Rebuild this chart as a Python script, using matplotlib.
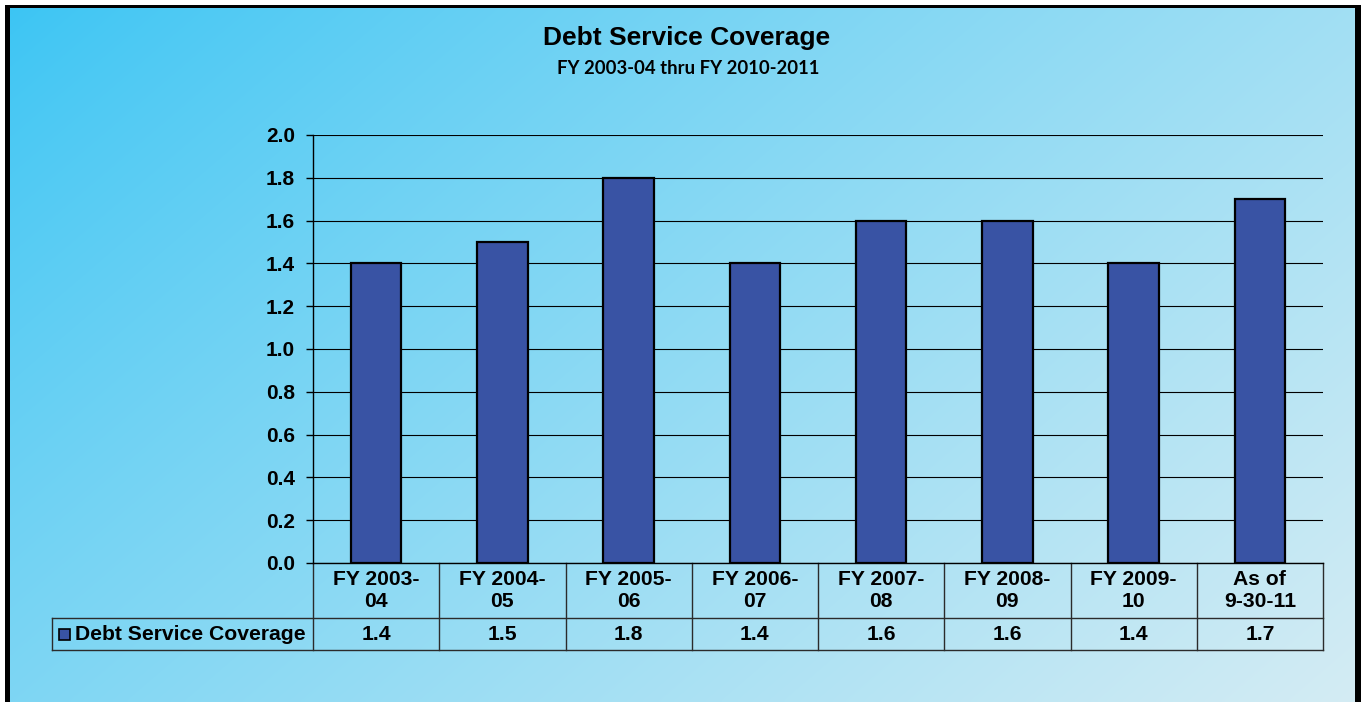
import numpy as np
import matplotlib
matplotlib.use("Agg")
import matplotlib.pyplot as plt
from matplotlib.patches import Rectangle
from matplotlib.transforms import blended_transform_factory

# ---- data ----
categories = ["FY 2003-\n04", "FY 2004-\n05", "FY 2005-\n06", "FY 2006-\n07",
              "FY 2007-\n08", "FY 2008-\n09", "FY 2009-\n10", "As of\n9-30-11"]
coverage = [1.4, 1.5, 1.8, 1.4, 1.6, 1.6, 1.4, 1.7]
series_name = "Debt Service Coverage"
title = "Debt Service Coverage"
subtitle = "FY 2003-04 thru FY 2010-2011"
yticks = [0.0, 0.2, 0.4, 0.6, 0.8, 1.0, 1.2, 1.4, 1.6, 1.8, 2.0]

W, H = 1364, 702
fig = plt.figure(figsize=(W / 100, H / 100), dpi=100)
fig.patch.set_facecolor("white")

def px(x0, y0, x1, y1):
    """Figure-fraction rect from pixel box (top-left origin)."""
    return [x0 / W, 1 - y1 / H, (x1 - x0) / W, (y1 - y0) / H]

# ---- diagonal gradient background ----
bg = fig.add_axes(px(10, 8, 1356, 702), zorder=-10)
bg.set_axis_off()
gx, gy = np.meshgrid(np.linspace(0, 1, 400), np.linspace(0, 1, 200))
t = np.clip((gx * 1.0 + gy * 0.6) / 1.6, 0, 1) ** 0.85
c0 = np.array([60, 197, 244]) / 255
c1 = np.array([212, 236, 243]) / 255
img = c0[None, None, :] * (1 - t[..., None]) + c1[None, None, :] * t[..., None]
bg.imshow(img, aspect="auto", extent=[0, 1, 1, 0], interpolation="bilinear")
bg.set_xlim(0, 1)
bg.set_ylim(1, 0)

# black frame (left, top, right)
for (x0, y0, x1, y1) in [(5, 5, 10, 702), (5, 5, 1361, 8), (1355, 5, 1361, 702)]:
    fig.patches.append(Rectangle((x0 / W, 1 - y1 / H), (x1 - x0) / W, (y1 - y0) / H,
                                 transform=fig.transFigure, facecolor="black",
                                 edgecolor="none", zorder=5))

# ---- titles ----
fig.text(687 / W, 1 - 38 / H, title, ha="center", va="center",
         fontsize=19, fontweight="bold", family="Liberation Sans")
fig.text(688 / W, 1 - 68 / H, subtitle, ha="center", va="center",
         fontsize=13.3, fontweight="bold", family="Lato")

# ---- chart ----
ax_l, ax_t, ax_r, ax_b = 313, 135, 1323, 563
ax = fig.add_axes(px(ax_l, ax_t, ax_r, ax_b))
ax.patch.set_alpha(0)
n = len(categories)
x = np.arange(n)
bar_color = "#3953A4"
ax.bar(x, coverage, width=0.4, color=bar_color, edgecolor="black",
       linewidth=1.6, zorder=3)
ax.set_xlim(-0.5, n - 0.5)
ax.set_ylim(0, 2.0)
ax.set_yticks(yticks)
ax.set_yticklabels([f"{v:.1f}" for v in yticks], fontsize=15,
                   fontweight="bold", family="Liberation Sans")
ax.tick_params(axis="y", length=5, width=1, pad=8, colors="black")
ax.set_xticks([])
ax.grid(axis="y", color="black", linewidth=0.8, zorder=0)
for s in ["top", "right"]:
    ax.spines[s].set_visible(False)
ax.spines["left"].set_linewidth(1)
ax.spines["bottom"].set_linewidth(1)

# ---- data table below the axes ----
unit_px = (ax_r - ax_l) / n
ax_h = ax_b - ax_t
tr = blended_transform_factory(ax.transData, ax.transAxes)
y_head_bot = -(618 - ax_b) / ax_h
y_row_bot = -(650 - ax_b) / ax_h
x_left = -0.5 - (ax_l - 52) / unit_px
line_kw = dict(color="#2b2b2b", linewidth=1.0, transform=tr, clip_on=False)

# vertical separators
for b in np.arange(n + 1) - 0.5:
    ax.plot([b, b], [0, y_row_bot], **line_kw)
ax.plot([x_left, x_left], [y_head_bot, y_row_bot], **line_kw)
# horizontal lines
ax.plot([x_left, n - 0.5], [y_head_bot, y_head_bot], **line_kw)
ax.plot([x_left, n - 0.5], [y_row_bot, y_row_bot], **line_kw)

txt_kw = dict(fontsize=15.2, fontweight="bold", family="Liberation Sans",
              transform=tr, clip_on=False)
for i, (cat, v) in enumerate(zip(categories, coverage)):
    ax.text(i, y_head_bot / 2, cat, ha="center", va="center",
            linespacing=1.22, **txt_kw)
    ax.text(i, (y_head_bot + y_row_bot) / 2, f"{v:.1f}", ha="center",
            va="center", **txt_kw)

# legend key + series name in the row header
key_x = x_left + (59 - 52) / unit_px
key_w = 11 / unit_px
key_h = 11 / ax_h
y_mid = (y_head_bot + y_row_bot) / 2
ax.add_patch(Rectangle((key_x, y_mid - key_h / 2), key_w, key_h,
                       facecolor=bar_color, edgecolor="black", linewidth=1.2,
                       transform=tr, clip_on=False))
ax.text(x_left + (75 - 52) / unit_px, y_mid, series_name, ha="left",
        va="center", **txt_kw)

fig.savefig("out.png", dpi=100)
